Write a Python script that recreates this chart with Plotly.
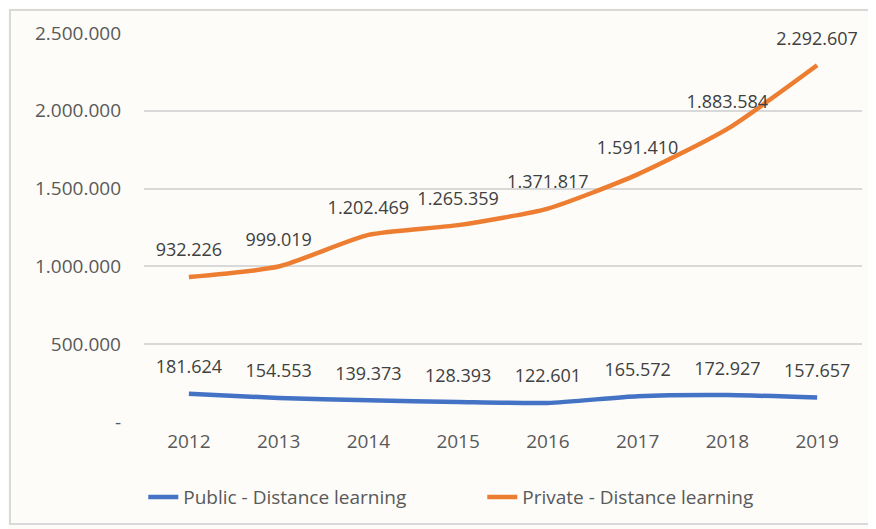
import plotly.graph_objects as go

years = ["2012", "2013", "2014", "2015", "2016", "2017", "2018", "2019"]
public = [181624, 154553, 139373, 128393, 122601, 165572, 172927, 157657]
private = [932226, 999019, 1202469, 1265359, 1371817, 1591410, 1883584, 2292607]

y_ticks = [0, 500000, 1000000, 1500000, 2000000, 2500000]
y_labels = ["-", "500.000", "1.000.000", "1.500.000", "2.000.000", "2.500.000"]


def fmt(v):
    return f"{v:,}".replace(",", ".")


FONT = "Open Sans"
GREY = "#595959"

fig = go.Figure()

# transparent big markers push the value labels up above the line
for name, vals, col in [
    ("Public - Distance learning", public, "#4472C4"),
    ("Private - Distance learning", private, "#ED7D31"),
]:
    fig.add_trace(go.Scatter(
        x=years, y=vals, name=name,
        mode="lines+markers+text",
        line=dict(color=col, width=4.5, shape="spline", smoothing=0.6),
        marker=dict(size=24, color="rgba(0,0,0,0)"),
        text=[fmt(v) for v in vals], textposition="top center",
        textfont=dict(family=FONT, size=18, color="#404040"),
        cliponaxis=False,
    ))

# the page body adds 8px around the figure, so margins are offset by that
fig.update_layout(
    width=876, height=529,
    margin=dict(l=136, r=22, t=25, b=115),
    paper_bgcolor="#fdfcf9",
    plot_bgcolor="#fdfcf9",
    font=dict(family=FONT, size=18, color=GREY),
    xaxis=dict(
        type="category", showgrid=False, showline=False, ticks="",
        tickfont=dict(size=19), range=[-0.5, 7.5], ticklabelstandoff=6,
    ),
    yaxis=dict(
        range=[0, 2500000], tickvals=y_ticks, ticktext=y_labels,
        gridcolor="#d9d9d9", gridwidth=1.5, zeroline=False, showline=False,
        ticks="", ticklabelstandoff=22, tickfont=dict(size=19),
    ),
    legend=dict(
        orientation="h", x=-0.001, xanchor="left", y=-0.193, yanchor="middle",
        font=dict(size=19, color=GREY), entrywidth=294, entrywidthmode="pixels",
    ),
    shapes=[dict(
        type="rect", xref="paper", yref="paper",
        x0=-0.1866, x1=1.011, y0=-0.262, y1=1.059,
        line=dict(color="#d9d9d9", width=2),
    )],
    showlegend=True,
)

fig.write_html("out.html")
